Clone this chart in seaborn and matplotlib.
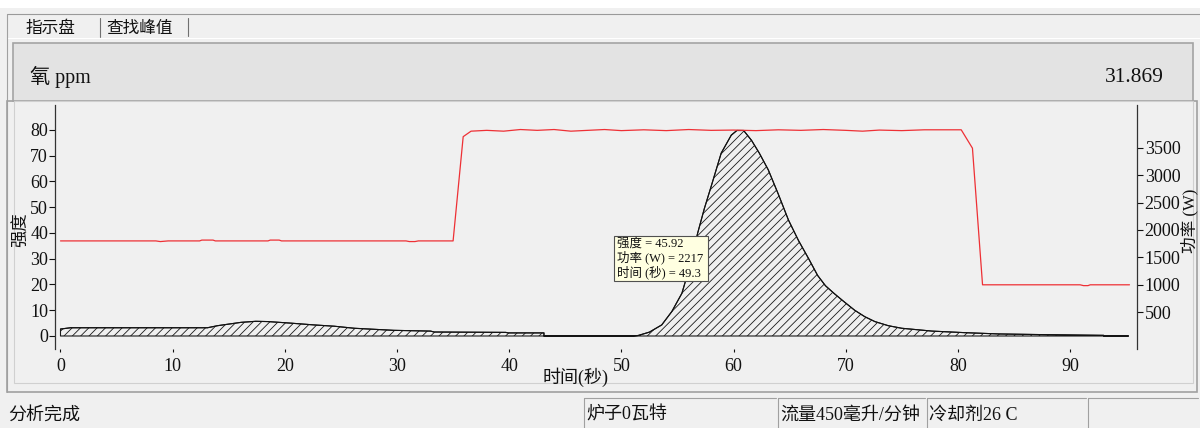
import matplotlib
matplotlib.use('Agg')
import matplotlib.pyplot as plt
from matplotlib.patches import Rectangle
from matplotlib.lines import Line2D
import seaborn as sns

# ---------------- data ----------------
time_intensity = [0, 0.9, 13.1, 14.0, 16.1, 17.4, 18.5, 20.5, 22.6, 24.4,
                  26.2, 29.7, 33.0, 33.3, 39.7, 39.9, 43.1, 43.1, 51.0,
                  51.5, 52.5, 53.6, 54.5, 55.4, 56.1, 56.8, 57.4, 58.0, 58.9,
                  59.8, 60.3, 60.9, 61.6, 62.3, 63.1, 64.0, 64.9, 65.8, 66.7,
                  67.5, 68.2, 69.0, 69.8, 70.8, 71.7, 72.6, 73.8, 75.0, 77.7,
                  80.6, 83.6, 88.1, 93.0, 93.0, 95.2]
intensity = [2.7, 3.2, 3.2, 4.0, 5.3, 5.7, 5.6, 5.0, 4.3, 3.8,
             3.0, 2.2, 1.9, 1.55, 1.4, 1.2, 1.2, 0, 0,
             0.2, 1.5, 4.3, 9.5, 16.6, 27, 39.9, 49.5, 58, 71,
             78, 79.8, 79.8, 76, 71, 64.5, 55, 45, 37, 30,
             23.5, 19.5, 16.4, 13.5, 10, 7.5, 5.6, 4.0, 3.0, 1.9,
             1.3, 0.8, 0.5, 0.25, 0, 0]

time_power = [0, 8.5, 8.9, 9.6, 12.4, 12.6, 13.6, 13.8, 18.5, 18.7, 19.5, 19.7,
              30.8, 31.1, 31.6, 31.9, 35.0, 35.9, 36.6,
              38.0, 39.5, 41.0, 42.5, 44.0, 45.5, 47.0, 48.5, 50.0,
              52.0, 54.0, 56.0, 58.0, 60.0, 62.0, 64.0, 66.0, 68.0, 70.0,
              71.5, 73.0, 75.0, 77.0, 79.0, 80.3, 81.3, 82.2,
              90.9, 91.2, 91.6, 91.8, 95.3]
power_w = [1800, 1800, 1788, 1800, 1800, 1815, 1815, 1800, 1800, 1815, 1815, 1800,
           1800, 1788, 1788, 1800, 1800, 3700, 3800,
           3815, 3800, 3830, 3815, 3830, 3800, 3815, 3830, 3810,
           3825, 3810, 3830, 3815, 3820, 3810, 3825, 3815, 3830, 3815,
           3800, 3820, 3810, 3825, 3825, 3825, 3490, 1000,
           1000, 985, 985, 1000, 1000]

x_ticks = [0, 10, 20, 30, 40, 50, 60, 70, 80, 90]
left_ticks = [0, 10, 20, 30, 40, 50, 60, 70, 80]
right_ticks = [500, 1000, 1500, 2000, 2500, 3000, 3500]

tab_labels = ['指示盘', '查找峰值']
header_label = '氧 ppm'
header_value = '31.869'
x_label = '时间(秒)'
left_label = '强度'
right_label = '功率 (W)'
tooltip_lines = ['强度 = 45.92', '功率 (W) = 2217', '时间 (秒) = 49.3']
status_labels = ['分析完成', '炉子0瓦特', '流量450毫升/分钟', '冷却剂26 C']

# ---------------- style ----------------
sns.set_theme(style='ticks')
FONT = ['Liberation Serif', 'Noto Sans CJK SC']
plt.rcParams['font.family'] = FONT
plt.rcParams['hatch.linewidth'] = 0.6
plt.rcParams['axes.unicode_minus'] = False

BG = '#f0f0f0'
W, H = 1200, 428
fig = plt.figure(figsize=(12, 4.28), dpi=100)
fig.patch.set_facecolor(BG)


def fx(x):
    return x / W


def fy(y):
    return 1 - y / H


def rect(x0, y0, x1, y1, fc='none', ec='none', lw=0.8, z=-1):
    fig.patches.append(Rectangle((fx(x0), fy(y1)), fx(x1) - fx(x0), fy(y0) - fy(y1),
                                 transform=fig.transFigure, facecolor=fc,
                                 edgecolor=ec, linewidth=lw, zorder=z))


def line(x0, y0, x1, y1, c='#a0a0a0', lw=0.8, z=-1):
    fig.lines.append(Line2D([fx(x0), fx(x1)], [fy(y0), fy(y1)],
                            transform=fig.transFigure, color=c, linewidth=lw, zorder=z))


def text(x, y, s, size=12.5, ha='left', va='center', rot=0, z=5, color='#111111'):
    fig.text(fx(x), fy(y), s, fontsize=size, ha=ha, va=va, rotation=rot,
             family=FONT, color=color, zorder=z)


# ---------------- window chrome ----------------
rect(0, 0, 1200, 8, fc='white', z=-2)
line(7, 14, 1200, 14, c='#9a9a9a')
line(7, 14, 7, 392, c='#a0a0a0')
line(100, 18, 100, 37, c='#707070')
line(188, 18, 188, 36, c='#707070')
line(8, 38, 1200, 38, c='#ffffff')
text(25, 29, tab_labels[0], size=12)
text(106, 29, tab_labels[1], size=12)

# header box
rect(13, 43, 1193, 101, fc='#e3e3e3', ec='#a4a4a4', lw=1.2)
text(30, 77, header_label, size=14.5)
text(1164, 78, header_value, size=15.5, ha='right')

# chart panel
rect(7, 101, 1197, 392, fc=BG, ec='#a0a0a0', lw=1.2, z=-1.5)
rect(14, 101, 1193, 383, fc='none', ec='#d0d0d0', lw=0.8)

# status bar
text(8, 415, status_labels[0], size=13)
cells = [584, 778, 927, 1088, 1200]
for i in range(4):
    line(cells[i], 398, cells[i], 428, c='#a0a0a0')
    line(cells[i], 398, cells[i + 1] - 2, 398, c='#a0a0a0')
for i, s in enumerate(status_labels[1:]):
    text(cells[i] + 2, 415, s, size=13)

# ---------------- axes ----------------
ax = fig.add_axes([fx(55), fy(349), fx(1137) - fx(55), fy(105) - fy(349)])
ax.set_facecolor(BG)
ax.fill_between(time_intensity, 0, intensity, facecolor='none',
                edgecolor='#1a1a1a', hatch='////', linewidth=0.8, zorder=2)
sns.lineplot(x=time_intensity, y=intensity, ax=ax, color='#111111', linewidth=0.8,
             estimator=None, sort=False, zorder=3)
ax.set_xlim(-0.49, 95.97)
ax.set_ylim(-5.05, 89.7)
ax.set_xticks(x_ticks)
ax.set_yticks(left_ticks)
ax.set_xlabel('')
ax.set_ylabel('')

ax2 = ax.twinx()
sns.lineplot(x=time_power, y=power_w, ax=ax2, color='#ee3035', linewidth=0.9,
             estimator=None, sort=False, zorder=4)
ax2.set_ylim(-170, 4277)
ax2.set_yticks(right_ticks)
ax2.set_xlim(-0.49, 95.97)
ax2.set_ylabel('')

for a in (ax, ax2):
    for s in ('top', 'bottom'):
        a.spines[s].set_visible(False)
    for s in ('left', 'right'):
        a.spines[s].set_color('#333333')
        a.spines[s].set_linewidth(0.9)
ax.spines['right'].set_visible(False)
ax2.spines['left'].set_visible(False)

ax.tick_params(axis='y', direction='out', length=4, width=0.8, pad=1,
               labelsize=13, colors='#111111')
ax.tick_params(axis='x', direction='out', length=2.5, width=0.8, pad=4,
               labelsize=13, colors='#111111')
ax2.tick_params(axis='y', direction='out', length=4, width=0.8, pad=1.5,
                labelsize=13, colors='#111111')

# axis titles
text(22, 230, left_label, size=12.5, ha='center', rot=90)
text(1190, 221, right_label, size=12, ha='center', rot=90)
text(576, 377, x_label, size=13, ha='center')

# tooltip
rect(614, 236, 708, 281, fc='#ffffe1', ec='#505050', lw=0.8, z=8)
for i, s in enumerate(tooltip_lines):
    text(617, 243.5 + i * 14.3, s, size=9, z=9)

fig.savefig('out.png', dpi=100, facecolor=fig.get_facecolor())
